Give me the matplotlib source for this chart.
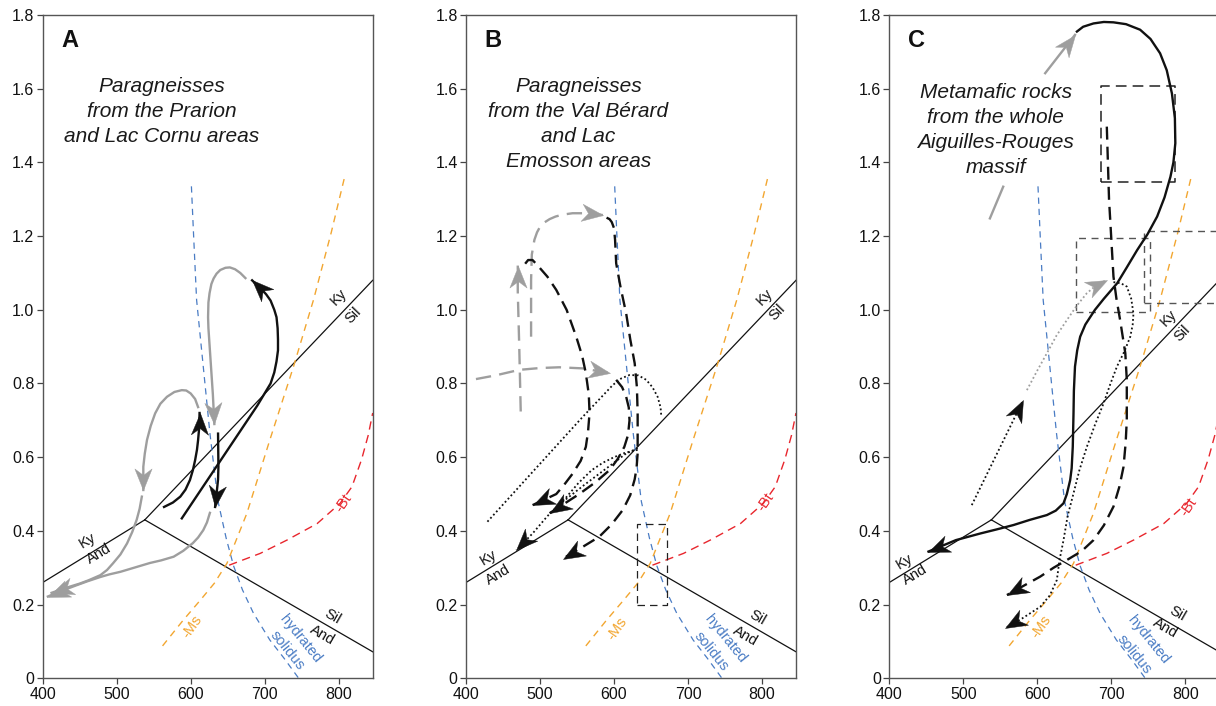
import math
import matplotlib
matplotlib.use("Agg")
import matplotlib.pyplot as plt
from matplotlib.path import Path
from matplotlib.markers import MarkerStyle
from matplotlib.transforms import Affine2D
from matplotlib.ticker import FixedLocator, FixedFormatter

plt.rcParams['font.family'] = ['Liberation Sans', 'DejaVu Sans']

# ---------------- data ----------------
X_TICKS = [400, 500, 600, 700, 800]
Y_TICKS = [0, 0.2, 0.4, 0.6, 0.8, 1.0, 1.2, 1.4, 1.6, 1.8]
Y_TICK_LABELS = ['0', '0.2', '0.4', '0.6', '0.8', '1.0', '1.2', '1.4', '1.6', '1.8']
PANELS = ['A', 'B', 'C']
TITLES = ['Paragneisses\nfrom the Prarion\nand Lac Cornu areas',
          'Paragneisses\nfrom the Val Bérard\nand Lac\nEmosson areas',
          'Metamafic rocks\nfrom the whole\nAiguilles-Rouges\nmassif']
TITLE_T = [561, 552, 544]
TITLE_P = [1.537, 1.503, 1.487]

# Al2SiO5 reaction lines
KY_AND_T = [400, 538]
KY_AND_P = [0.26, 0.43]
KY_SIL_T = [538, 846]
KY_SIL_P = [0.43, 1.08]
SIL_AND_T = [538, 846]
SIL_AND_P = [0.43, 0.072]

# hydrated solidus
SOL_T = [601, 604, 608, 617, 626, 637, 648, 658, 670, 685, 707, 726, 746]
SOL_P = [1.335, 1.2, 1.027, 0.846, 0.665, 0.48, 0.38, 0.305, 0.24, 0.176, 0.104, 0.055, 0.0]
# -Ms
MS_T = [562, 590, 613, 632, 649, 676, 707, 739, 766, 790, 808]
MS_P = [0.088, 0.158, 0.212, 0.258, 0.312, 0.448, 0.647, 0.846, 1.027, 1.21, 1.36]
# -Bt
BT_T = [652, 694, 730, 771, 802, 818, 831, 840, 846]
BT_P = [0.307, 0.339, 0.375, 0.42, 0.475, 0.52, 0.594, 0.66, 0.72]

# ----- Panel A paths -----
A_G1_T = [610, 606, 600, 594, 588, 578, 568, 559, 552, 546, 541, 538, 536, 536]
A_G1_P = [0.736, 0.758, 0.773, 0.781, 0.782, 0.777, 0.764, 0.745, 0.719, 0.685, 0.647, 0.61, 0.574, 0.511]
A_G1B_T = [534, 531, 527, 521, 514, 505, 495, 487, 478, 462, 450, 437, 425, 412]
A_G1B_P = [0.493, 0.46, 0.43, 0.397, 0.366, 0.336, 0.312, 0.294, 0.28, 0.266, 0.257, 0.249, 0.241, 0.232]
A_G2_T = [674, 667, 660, 653, 647, 640, 635, 631, 628, 625.5, 624, 623.5, 624, 626, 628, 630, 632]
A_G2_P = [1.086, 1.1, 1.11, 1.115, 1.114, 1.108, 1.098, 1.085, 1.07, 1.045, 1.02, 0.98, 0.95, 0.89, 0.83,
          0.77, 0.69]
A_G2B_T = [626, 622, 617, 610, 603, 590, 577, 560, 545, 525, 505, 490, 478, 460, 445, 420, 407]
A_G2B_P = [0.449, 0.423, 0.402, 0.382, 0.367, 0.346, 0.33, 0.32, 0.313, 0.301, 0.289, 0.282, 0.275, 0.263,
           0.252, 0.233, 0.222]
A_K1_T = [564, 576, 586, 593, 599, 603, 606, 608.5, 610, 611.5, 612]
A_K1_P = [0.465, 0.477, 0.493, 0.512, 0.538, 0.565, 0.592, 0.62, 0.646, 0.68, 0.72]
A_K2_T = [637, 637.5, 637, 636, 633]
A_K2_P = [0.664, 0.574, 0.54, 0.52, 0.465]
A_K3_T = [588, 640, 690, 708, 713, 716, 718, 718, 717.5, 716, 713, 708, 702, 696, 690, 683]
A_K3_P = [0.434, 0.59, 0.74, 0.80, 0.83, 0.86, 0.89, 0.92, 0.95, 0.98, 1.0, 1.025, 1.042, 1.055, 1.066,
          1.08]

# ----- Panel B paths -----
B_GD1_T = [488, 488, 489, 492.5, 496, 500, 506, 513, 521, 530, 544, 565, 585]
B_GD1_P = [0.927, 1.081, 1.15, 1.19, 1.21, 1.225, 1.237, 1.246, 1.253, 1.258, 1.262, 1.262, 1.257]
B_GD2_T = [474, 472, 470, 470]
B_GD2_P = [0.724, 0.9, 1.05, 1.12]
B_GD3_T = [413.5, 440, 472, 500, 526, 558, 594]
B_GD3_P = [0.812, 0.822, 0.837, 0.842, 0.844, 0.841, 0.828]
B_KD1_T = [590, 594, 597, 600, 601.5, 603, 609, 616.5, 622, 628, 631, 632, 632, 630.5, 628, 622, 612, 597,
           580, 558, 531]
B_KD1_P = [1.25, 1.246, 1.238, 1.222, 1.19, 1.126, 1.06, 0.99, 0.92, 0.855, 0.79, 0.72, 0.61, 0.57, 0.54,
           0.497, 0.457, 0.418, 0.384, 0.357, 0.325]
B_KD2_T = [480, 484, 490, 497, 510, 522, 536, 549, 557, 562, 566, 567, 565, 562, 555, 544, 533, 522, 490]
B_KD2_P = [1.125, 1.135, 1.135, 1.12, 1.09, 1.054, 1.0, 0.927, 0.875, 0.828, 0.77, 0.72, 0.67, 0.628, 0.59,
           0.555, 0.526, 0.5, 0.47]
B_KD3_T = [603, 611, 616.5, 620, 621, 619, 614, 605, 594, 575, 553, 513]
B_KD3_P = [0.81, 0.79, 0.764, 0.735, 0.7, 0.66, 0.628, 0.595, 0.565, 0.532, 0.5, 0.448]
B_KT1_T = [429, 490, 558, 598.5, 610, 621, 633, 643.6, 652, 659, 663, 664]
B_KT1_P = [0.425, 0.56, 0.71, 0.796, 0.814, 0.823, 0.822, 0.81, 0.79, 0.764, 0.735, 0.71]
B_KT2_T = [632, 615, 600, 585, 570, 552, 535, 510, 490, 468]
B_KT2_P = [0.62, 0.612, 0.6, 0.585, 0.565, 0.53, 0.49, 0.44, 0.393, 0.348]
B_KT3_T = [632, 615, 600, 580, 560, 525]
B_KT3_P = [0.625, 0.608, 0.585, 0.555, 0.525, 0.47]
B_BOX_T = [631, 672]
B_BOX_P = [0.2, 0.42]

# ----- Panel C paths -----
C_KS_T = [653.6, 662, 676, 690, 703, 720, 739, 753, 766, 775, 782, 786, 786.6, 784, 780, 772, 762, 749,
          735, 721, 708, 690, 678, 665, 658, 654, 651, 649.5, 649, 648, 646.5, 644.5, 640, 635.5, 625,
          613, 590, 568, 545, 523, 490, 453]
C_KS_P = [1.755, 1.768, 1.777, 1.781, 1.78, 1.775, 1.76, 1.735, 1.696, 1.65, 1.587, 1.52, 1.452, 1.4,
          1.361, 1.305, 1.253, 1.205, 1.162, 1.115, 1.072, 1.03, 1.0, 0.96, 0.927, 0.89, 0.846, 0.78,
          0.719, 0.628, 0.57, 0.538, 0.5, 0.475, 0.455, 0.443, 0.43, 0.416, 0.404, 0.393, 0.375, 0.344]
C_GA_T = [610.7, 651]
C_GA_P = [1.642, 1.746]
C_GL_T = [536, 554]
C_GL_P = [1.248, 1.334]
C_KD_T = [694, 697, 703, 707, 712, 719, 721, 721, 719.5, 716.6, 711, 703, 690, 676, 660, 640, 622, 604,
          559]
C_KD_P = [1.497, 1.3, 1.09, 1.03, 0.972, 0.882, 0.81, 0.701, 0.64, 0.574, 0.52, 0.466, 0.415, 0.375,
          0.345, 0.321, 0.3, 0.276, 0.226]
C_KT_T = [703, 713, 721, 727, 730, 729, 725.7, 718, 707.7, 699, 689.6, 678, 667, 657, 649, 641, 635.5,
          630, 626.5, 617, 604, 580, 556.6]
C_KT_P = [1.075, 1.072, 1.063, 1.03, 0.99, 0.96, 0.927, 0.888, 0.846, 0.8, 0.746, 0.688, 0.628, 0.565,
          0.502, 0.44, 0.375, 0.32, 0.267, 0.225, 0.194, 0.163, 0.136]
C_GT_T = [586, 600, 613, 626, 640, 653, 667, 680, 694]
C_GT_P = [0.782, 0.835, 0.882, 0.93, 0.972, 1.01, 1.045, 1.067, 1.081]
C_KT2_T = [511.5, 581]
C_KT2_P = [0.47, 0.755]
C_BOX1_T = [686, 786.6]
C_BOX1_P = [1.348, 1.607]
C_BOX2_T = [652.6, 752.8]
C_BOX2_P = [0.995, 1.194]
C_BOX3_T = [743.7, 900]
C_BOX3_P = [1.018, 1.215]

# label positions per panel
KY1_LBL = [(800, 1.035), (803, 1.035), (777.5, 0.977)]
SIL1_LBL = [(820, 0.985), (821, 0.992), (795.7, 0.936)]
KY2_LBL = [(461, 0.375), (430, 0.328), (421, 0.316)]
AND2_LBL = [(476, 0.337), (444, 0.282), (435, 0.28)]
SIL3_LBL = [(791, 0.167), (794, 0.165), (789, 0.176)]
AND3_LBL = [(777.5, 0.117), (778, 0.116), (773, 0.136)]
HYD_LBL = [(748, 0.108), (750, 0.108), (750, 0.104)]
SOLL_LBL = [(730, 0.077), (732, 0.072), (731, 0.064)]
MS_LBL = [(601.6, 0.14), (604, 0.135), (605, 0.14)]
BT_LBL = [(806.8, 0.475), (805, 0.478), (804.6, 0.466)]

# ---------------- style ----------------
BLUE = '#4a7cc4'
ORANGE = '#f2a630'
RED = '#e8262d'
GRAY = '#9e9e9e'
BLACK = '#111111'
DASH_K = (0, (5.5, 3))
DASH_G = (0, (6.5, 3.5))
DOT = (0, (1, 1.4))

ARROW_PATH = Path([(0, 0), (-1, 0.4), (-0.7, 0), (-1, -0.4), (0, 0)],
                  [Path.MOVETO, Path.LINETO, Path.LINETO, Path.LINETO, Path.CLOSEPOLY])


def arrowhead(ax, T, P, color, ms=31):
    p1 = ax.transData.transform((T[-2], P[-2]))
    p2 = ax.transData.transform((T[-1], P[-1]))
    ang = math.degrees(math.atan2(p2[1] - p1[1], p2[0] - p1[0]))
    m = MarkerStyle(ARROW_PATH, transform=Affine2D().rotate_deg(ang))
    ax.plot([T[-1]], [P[-1]], marker=m, ms=ms, color=color, mec=color, mew=0.3,
            ls='none', zorder=6)


def draw(ax, T, P, color, lw, ls='-', arrow=True, ms=31, z=5):
    ax.plot(T, P, color=color, lw=lw, ls=ls, zorder=z,
            solid_joinstyle='round', dash_capstyle='butt')
    if arrow:
        arrowhead(ax, T, P, color, ms)


def box(ax, T, P, color, lw, ls):
    ax.plot([T[0], T[1], T[1], T[0], T[0]], [P[0], P[0], P[1], P[1], P[0]],
            color=color, lw=lw, ls=ls, zorder=3)


fig = plt.figure(figsize=(12.16, 7.06), dpi=100)
lefts = [0.0351, 0.3832, 0.7313]
axes = []
for i, L in enumerate(lefts):
    ax = fig.add_axes([L, 0.0392, 0.2714, 0.9396])
    ax.set_xlim(400, 846)
    ax.set_ylim(0, 1.8)
    ax.xaxis.set_major_locator(FixedLocator(X_TICKS))
    ax.yaxis.set_major_locator(FixedLocator(Y_TICKS))
    ax.yaxis.set_major_formatter(FixedFormatter(Y_TICK_LABELS))
    ax.tick_params(direction='out', length=4, width=0.9, colors='#444444',
                   labelcolor='#111111', labelsize=11.5, pad=2)
    for s in ax.spines.values():
        s.set_color('#555555')
        s.set_linewidth(1.0)
    axes.append(ax)

    # reaction lines
    ax.plot(KY_AND_T, KY_AND_P, color=BLACK, lw=0.9, zorder=2)
    ax.plot(KY_SIL_T, KY_SIL_P, color=BLACK, lw=0.9, zorder=2)
    ax.plot(SIL_AND_T, SIL_AND_P, color=BLACK, lw=0.9, zorder=2)
    ax.plot(SOL_T, SOL_P, color=BLUE, lw=0.9, ls=(0, (5, 4)), zorder=2)
    ax.plot(MS_T, MS_P, color=ORANGE, lw=1.0, ls=(0, (5, 4)), zorder=2)
    ax.plot(BT_T, BT_P, color=RED, lw=1.0, ls=(0, (6, 4)), zorder=2)

    tk = dict(fontsize=10.5, ha='center', va='center', color=BLACK)
    ax.text(*KY1_LBL[i], 'Ky', rotation=46, **tk)
    ax.text(*SIL1_LBL[i], 'Sil', rotation=46, **tk)
    ax.text(*KY2_LBL[i], 'Ky', rotation=31, **tk)
    ax.text(*AND2_LBL[i], 'And', rotation=31, **tk)
    ax.text(*SIL3_LBL[i], 'Sil', rotation=-30, **tk)
    ax.text(*AND3_LBL[i], 'And', rotation=-30, **tk)
    ax.text(*HYD_LBL[i], 'hydrated', rotation=-51, fontsize=10.5, ha='center', va='center', color=BLUE)
    ax.text(*SOLL_LBL[i], 'solidus', rotation=-51, fontsize=10.5, ha='center', va='center', color=BLUE)
    ax.text(*MS_LBL[i], '-Ms', rotation=55, fontsize=10.5, ha='center', va='center', color=ORANGE)
    ax.text(*BT_LBL[i], '-Bt', rotation=55, fontsize=10.5, ha='center', va='center', color=RED)

    ax.text(0.083, 0.962, PANELS[i], transform=ax.transAxes, fontsize=17,
            fontweight='bold', ha='center', va='center', color=BLACK)
    ax.text(TITLE_T[i], TITLE_P[i], TITLES[i], fontsize=15, style='italic',
            ha='center', va='center', color='#1a1a1a', linespacing=1.4)

axA, axB, axC = axes

# Panel A
draw(axA, A_G1_T, A_G1_P, GRAY, 1.7)
draw(axA, A_G1B_T, A_G1B_P, GRAY, 1.7)
draw(axA, A_G2_T, A_G2_P, GRAY, 1.7)
draw(axA, A_G2B_T, A_G2B_P, GRAY, 1.7)
draw(axA, A_K1_T, A_K1_P, BLACK, 1.7)
draw(axA, A_K2_T, A_K2_P, BLACK, 1.7)
draw(axA, A_K3_T, A_K3_P, BLACK, 1.7)

# Panel B
box(axB, B_BOX_T, B_BOX_P, '#222222', 0.9, (0, (6, 4)))
draw(axB, B_GD1_T, B_GD1_P, GRAY, 1.7, DASH_G)
draw(axB, B_GD2_T, B_GD2_P, GRAY, 1.7, DASH_G)
draw(axB, B_GD3_T, B_GD3_P, GRAY, 1.7, DASH_G)
draw(axB, B_KD1_T, B_KD1_P, BLACK, 1.7, DASH_K)
draw(axB, B_KD2_T, B_KD2_P, BLACK, 1.7, DASH_K)
draw(axB, B_KD3_T, B_KD3_P, BLACK, 1.7, DASH_K)
draw(axB, B_KT1_T, B_KT1_P, BLACK, 1.3, DOT, arrow=False)
draw(axB, B_KT2_T, B_KT2_P, BLACK, 1.3, DOT)
draw(axB, B_KT3_T, B_KT3_P, BLACK, 1.3, DOT, arrow=False)

# Panel C
box(axC, C_BOX1_T, C_BOX1_P, '#222222', 1.1, (0, (7, 4)))
box(axC, C_BOX2_T, C_BOX2_P, '#555555', 1.0, (0, (5, 4)))
box(axC, C_BOX3_T, C_BOX3_P, '#555555', 1.0, (0, (5, 4)))
draw(axC, C_KS_T, C_KS_P, BLACK, 1.7)
draw(axC, C_GA_T, C_GA_P, GRAY, 1.7)
draw(axC, C_GL_T, C_GL_P, GRAY, 1.7, arrow=False)
draw(axC, C_KD_T, C_KD_P, BLACK, 1.7, DASH_K)
draw(axC, C_KT_T, C_KT_P, BLACK, 1.3, DOT)
draw(axC, C_GT_T, C_GT_P, GRAY, 1.3, DOT)
draw(axC, C_KT2_T, C_KT2_P, BLACK, 1.3, DOT)

fig.savefig('out.png', dpi=100)
